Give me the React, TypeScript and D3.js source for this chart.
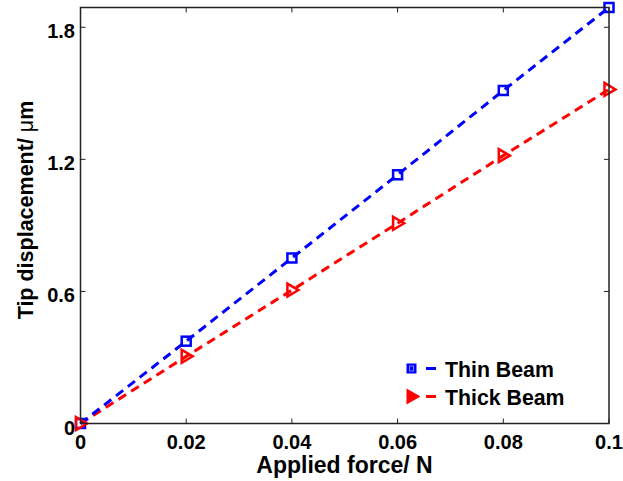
import React from 'react'
import * as d3 from 'd3'

// applied force (N)
const force = [0, 0.02, 0.04, 0.06, 0.08, 0.1]
// tip displacement (um)
const thinBeam = [0, 0.374, 0.752, 1.13, 1.513, 1.89]
const thickBeam = [0, 0.305, 0.606, 0.91, 1.217, 1.518]

const xTicks = [0, 0.02, 0.04, 0.06, 0.08, 0.1]
const yTicks = [0, 0.6, 1.2, 1.8]

const seriesNames = ['Thin Beam', 'Thick Beam']

export default function App() {
  const width = 623,
    height = 481
  const left = 80.5,
    right = 609,
    top = 7.5,
    bottom = 423.5

  const x = d3.scaleLinear().domain([0, 0.1]).range([left, right])
  const y = d3.scaleLinear().domain([0, 1.89]).range([bottom, top])

  const line = d3
    .line<number>()
    .x((d, i) => x(force[i]))
    .y(d => y(d))

  const font = 'Liberation Sans, Arial, sans-serif'

  const square = (cx: number, cy: number, key: any) => (
    <rect key={key} x={cx - 4.5} y={cy - 4.5} width={9} height={9} fill="none" stroke="#0000ff" strokeWidth={2.5} />
  )
  const tri = (cx: number, cy: number, key: any) => (
    <path
      key={key}
      d={`M${cx - 4.5},${cy - 6.5}L${cx + 6.5},${cy}L${cx - 4.5},${cy + 6.5}Z`}
      fill="none"
      stroke="#ff0000"
      strokeWidth={2.5}
    />
  )

  return (
    <svg width={width} height={height} style={{ position: 'absolute', left: 0, top: 0 }}>
      <rect width={width} height={height} fill="#fff" />
      {/* series */}
      <path d={line(thickBeam) || ''} fill="none" stroke="#ff0000" strokeWidth={3} strokeDasharray="9,6" />
      <path d={line(thinBeam) || ''} fill="none" stroke="#0000ff" strokeWidth={3} strokeDasharray="9,6" />
      {thinBeam.map((d, i) => square(x(force[i]), y(d), 's' + i))}
      {thickBeam.map((d, i) => tri(x(force[i]), y(d), 't' + i))}

      {/* axes box */}
      <rect x={left} y={top} width={right - left} height={bottom - top} fill="none" stroke="#222" strokeWidth={1.5} />

      {/* x ticks */}
      {xTicks.map((d, i) => (
        <g key={i}>
          <line x1={x(d)} x2={x(d)} y1={bottom} y2={bottom - 5} stroke="#222" />
          <line x1={x(d)} x2={x(d)} y1={top} y2={top + 5} stroke="#222" />
          <text
            x={x(d)}
            y={449}
            textAnchor="middle"
            fontFamily={font}
            fontWeight="bold"
            fontSize={20}
          >
            {d === 0 ? '0' : d === 0.1 ? '0.1' : d.toFixed(2)}
          </text>
        </g>
      ))}

      {/* y ticks */}
      {yTicks.map((d, i) => (
        <g key={i}>
          <line x1={left} x2={left + 5} y1={y(d)} y2={y(d)} stroke="#222" />
          <line x1={right} x2={right - 5} y1={y(d)} y2={y(d)} stroke="#222" />
          <text
            x={75}
            y={y(d) + 11}
            textAnchor="end"
            fontFamily={font}
            fontWeight="bold"
            fontSize={20}
          >
            {d === 0 ? '0' : d.toFixed(1)}
          </text>
        </g>
      ))}

      {/* axis labels */}
      <text x={344.5} y={473} textAnchor="middle" fontFamily={font} fontWeight="bold" fontSize={23}>
        Applied force/ N
      </text>
      <text
        transform={`translate(33, 210) rotate(-90)`}
        textAnchor="middle"
        fontFamily={font}
        fontWeight="bold"
        fontSize={21.5}
      >
        Tip displacement/ <tspan fontWeight="normal">μ</tspan>m
      </text>

      {/* legend */}
      {seriesNames.map((name, i) => {
        const ly = 368.5 + i * 28
        return (
          <g key={name}>
            {i === 0 ? (
              <g>
                <rect x={406.5} y={ly - 5} width={10} height={10} fill="#0000ff" />
                <rect x={409.5} y={ly - 2.5} width={4} height={5} fill="none" stroke="#8080ff" strokeWidth={1} />
              </g>
            ) : (
              <path d={`M${406.5},${ly - 8}L${420.5},${ly}L${406.5},${ly + 8}Z`} fill="#ff0000" />
            )}
            <line x1={426} x2={436} y1={ly} y2={ly} stroke={i === 0 ? '#0000ff' : '#ff0000'} strokeWidth={3} />
            <text x={445} y={ly + 8.5} fontFamily={font} fontWeight="bold" fontSize={21.3}>
              {name}
            </text>
          </g>
        )
      })}
    </svg>
  )
}
